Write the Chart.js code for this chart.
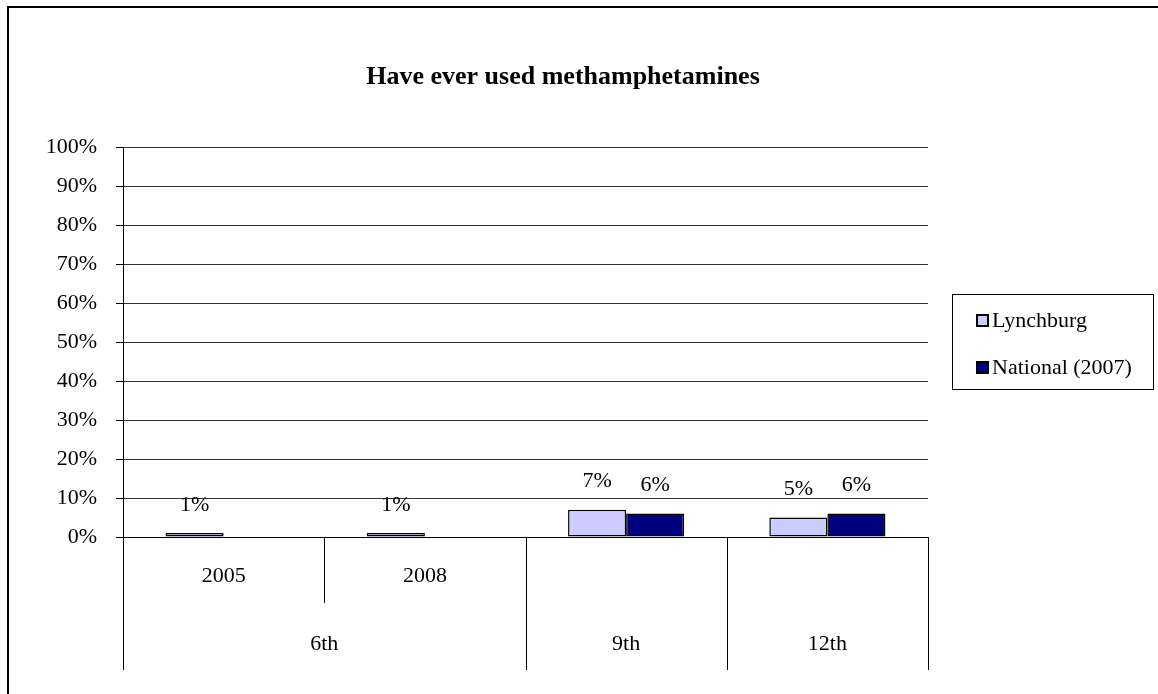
<!DOCTYPE html>
<html>
<head>
<meta charset="utf-8">
<script src="https://cdn.jsdelivr.net/npm/chart.js@4.4.1/dist/chart.umd.min.js"></script>
<style>
html,body{margin:0;padding:0;background:#fff;}
#wrap{width:1158px;height:694px;position:relative;}
</style>
</head>
<body>
<div id="wrap"><canvas id="c" width="1158" height="694"></canvas></div>
<script>
// ---- data ----
const titleText = 'Have ever used methamphetamines';
const years = ['2005', '2008', '', ''];
const grades = ['6th', '6th', '9th', '12th'];
const seriesNames = ['Lynchburg', 'National (2007)'];
const lynchburg = [1, 1, 7, 5];
const national = [null, null, 6, 6];
const yTicks = [0, 10, 20, 30, 40, 50, 60, 70, 80, 90, 100];

const FONT = "'Liberation Serif', 'Times New Roman', serif";
const colors = ['#CCCCFF', '#000080'];

const labels = years.map((y, i) => y ? y : grades[i]);

const customPlugin = {
  id: 'custom',
  beforeDraw(chart) {
    const ctx = chart.ctx;
    ctx.save();
    ctx.fillStyle = '#fff';
    ctx.fillRect(0, 0, chart.width, chart.height);
    ctx.strokeStyle = '#000';
    ctx.lineWidth = 2;
    ctx.beginPath();
    ctx.moveTo(8, 694);
    ctx.lineTo(8, 7);
    ctx.lineTo(1158, 7);
    ctx.stroke();
    ctx.restore();
  },
  afterDraw(chart) {
    const ctx = chart.ctx;
    const ca = chart.chartArea;
    ctx.save();
    // title
    ctx.fillStyle = '#000';
    ctx.font = 'bold 26px ' + FONT;
    ctx.textAlign = 'center';
    ctx.textBaseline = 'alphabetic';
    ctx.fillText(titleText, 563, 84);

    // data labels
    ctx.font = '22px ' + FONT;
    ctx.textBaseline = 'middle';
    chart.data.datasets.forEach((ds, di) => {
      const meta = chart.getDatasetMeta(di);
      meta.data.forEach((bar, i) => {
        const v = ds.data[i];
        if (v === null || v === undefined) return;
        ctx.fillText(v + '%', bar.x, bar.y - 28);
      });
    });

    // category separators
    const n = chart.data.labels.length;
    const step = (ca.right - ca.left) / n;
    ctx.strokeStyle = '#000';
    ctx.lineWidth = 1;
    for (let i = 0; i <= n; i++) {
      const x = Math.round(ca.left + i * step) + 0.5;
      const sameGroup = i > 0 && i < n && grades[i] === grades[i - 1];
      ctx.beginPath();
      ctx.moveTo(x, ca.bottom);
      ctx.lineTo(x, sameGroup ? ca.bottom + 66 : ca.bottom + 133);
      ctx.stroke();
    }
    // group labels
    let start = 0;
    for (let i = 1; i <= n; i++) {
      if (i === n || grades[i] !== grades[start]) {
        const x = ca.left + (start + i) / 2 * step;
        ctx.fillText(grades[start], x, ca.bottom + 107);
        start = i;
      }
    }

    // legend
    const lx = 952, ly = 294, lw = 201, lh = 95;
    ctx.strokeStyle = '#000';
    ctx.lineWidth = 1;
    ctx.strokeRect(lx + 0.5, ly + 0.5, lw, lh);
    ctx.textAlign = 'left';
    const rows = [320, 367];
    chart.data.datasets.forEach((ds, di) => {
      const cy = rows[di];
      ctx.fillStyle = ds.backgroundColor;
      ctx.fillRect(977, cy - 5, 11, 11);
      ctx.strokeStyle = '#000';
      ctx.lineWidth = 2;
      ctx.strokeRect(977, cy - 5, 11, 11);
      ctx.fillStyle = '#000';
      ctx.fillText(ds.label, 992, cy + 1);
    });
    ctx.restore();
  }
};

new Chart(document.getElementById('c'), {
  type: 'bar',
  data: {
    labels: labels,
    datasets: [
      { label: seriesNames[0], data: lynchburg, backgroundColor: colors[0], borderColor: '#000', borderWidth: 1.5, borderSkipped: false },
      { label: seriesNames[1], data: national, backgroundColor: colors[1], borderColor: '#000', borderWidth: 1.5, borderSkipped: false }
    ]
  },
  options: {
    responsive: false,
    animation: false,
    events: [],
    layout: { padding: { left: 0, top: 147, right: 230, bottom: 0 } },
    datasets: { bar: { barPercentage: 1, categoryPercentage: 0.577 } },
    plugins: { legend: { display: false }, title: { display: false }, tooltip: { enabled: false } },
    scales: {
      x: {
        afterFit(s) { s.height = 157; },
        grid: { display: false, drawTicks: false },
        border: { display: true, color: '#000', width: 1 },
        ticks: {
          font: { family: FONT, size: 22 },
          color: '#000',
          padding: 26,
          maxRotation: 0,
          autoSkip: false,
          callback: (v, i) => years[i]
        }
      },
      y: {
        min: 0, max: 100,
        afterFit(s) { s.width = 123; },
        afterBuildTicks(s) { s.ticks = yTicks.map(v => ({ value: v })); },
        grid: { color: '#333', lineWidth: 1, tickLength: 7, tickColor: '#000' },
        border: { display: true, color: '#000', width: 1 },
        ticks: {
          font: { family: FONT, size: 22 },
          color: '#000',
          padding: 19,
          callback: v => v + '%'
        }
      }
    }
  },
  plugins: [customPlugin]
});
</script>
</body>
</html>
